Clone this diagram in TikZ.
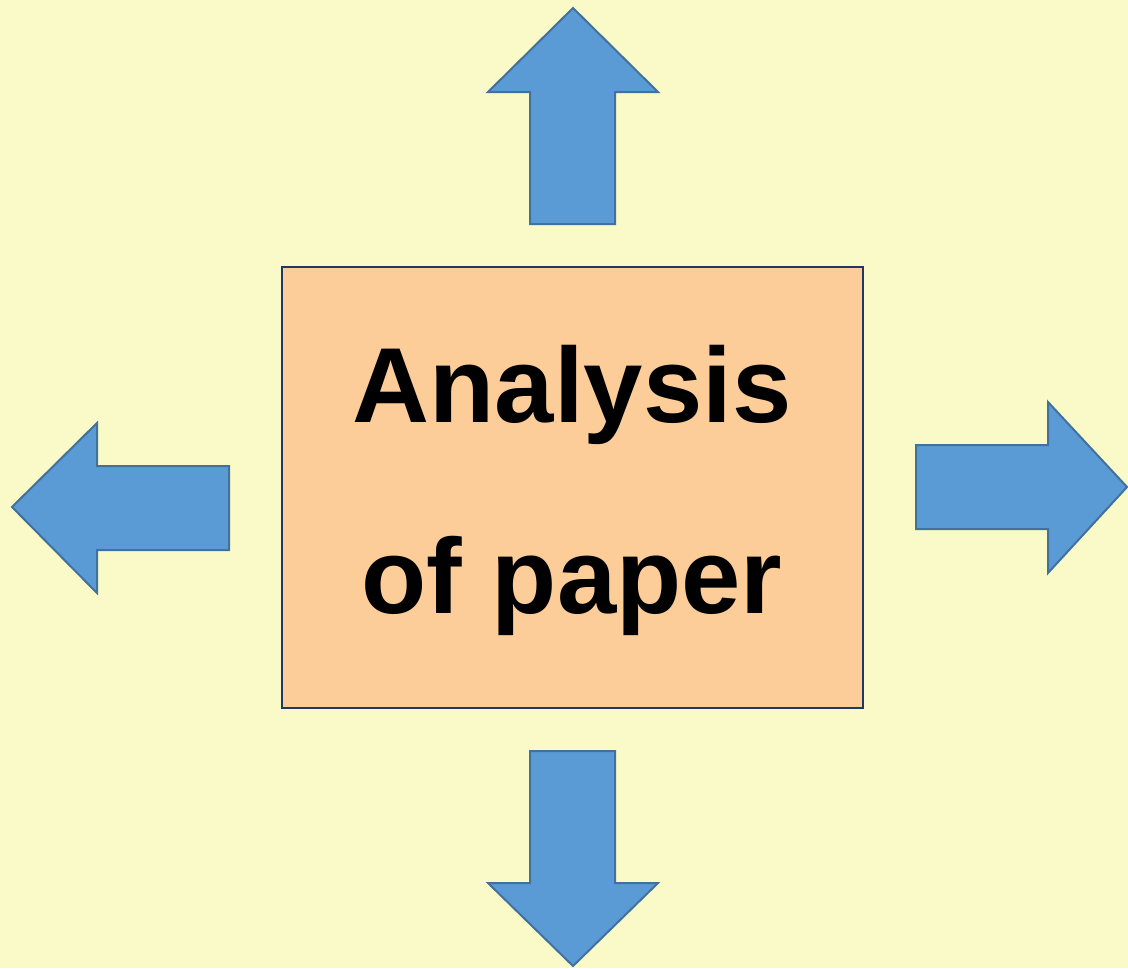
\documentclass[tikz,border=0pt]{standalone}
\usepackage{fontspec}
\setmainfont{Liberation Sans}
\definecolor{bgyellow}{RGB}{250,250,200}
\definecolor{boxfill}{RGB}{252,204,153}
\definecolor{boxedge}{RGB}{31,56,100}
\definecolor{arrowfill}{RGB}{91,155,213}
\definecolor{arrowedge}{RGB}{65,113,156}
\tikzset{
  bigarrow/.style={draw=arrowedge, fill=arrowfill, line width=1.5},
  boxtext/.style={anchor=base, inner sep=0pt, font=\fontsize{80}{90}\selectfont\bfseries}
}
\begin{document}
\begin{tikzpicture}[x=0.75pt,y=0.75pt,yscale=-1,xscale=1]
    \fill [bgyellow] (0,0) rectangle (1128,968);
    % up
    \draw [bigarrow] (573,8) -- (658,92) -- (615,92) -- (615,224) -- (530,224) -- (530,92) -- (488,92) -- cycle ;
    % left
    \draw [bigarrow] (12,507) -- (97,423) -- (97,466) -- (229,466) -- (229,550) -- (97,550) -- (97,593) -- cycle ;
    % right
    \draw [bigarrow] (1127,487) -- (1048,402) -- (1048,445) -- (916,445) -- (916,529) -- (1048,529) -- (1048,573) -- cycle ;
    % down
    \draw [bigarrow] (573,966) -- (658,883) -- (615,883) -- (615,751) -- (530,751) -- (530,883) -- (488,883) -- cycle ;
    \draw [draw=boxedge, fill=boxfill, line width=1.2] (282,267) rectangle (863,708) ;
    \node (analysis) at (572,422) [boxtext] {Analysis};
    \node (paper) at (572,613) [boxtext] {of paper};
\end{tikzpicture}
\end{document}
